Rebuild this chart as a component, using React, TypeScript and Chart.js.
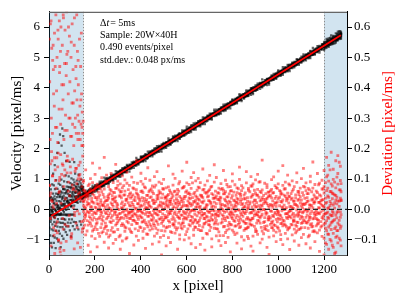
import React, { useEffect, useRef } from "react";
import { Chart, registerables } from "chart.js";

Chart.register(...registerables);

const SERIF = "'Liberation Serif', 'DejaVu Serif', serif";

// Linear fit of velocity vs x (px/ms)
const FIT_INTERCEPT = -0.262;
const FIT_SLOPE = 0.004707;
const fitLineX = [10, 1273];

const xTicks = [0, 200, 400, 600, 800, 1000, 1200];
const velocityTicks = [-1, 0, 1, 2, 3, 4, 5, 6];
const deviationTicks = [-0.1, 0, 0.1, 0.2, 0.3, 0.4, 0.5, 0.6];
const shadedRanges = [
  [0, 150],
  [1200, 1300],
];
const annotationLines = ["Sample: 20W\u00d740H", "0.490 events/pixel", "std.dev.: 0.048 px/ms"];

// Events in the fitted region: x column and deviations (units of 0.001 px/ms)
const colX = [
  151, 160, 171, 181, 190, 201, 210, 221, 230, 241,
  251, 260, 271, 280, 291, 300, 311, 320, 331, 340,
  351, 361, 370, 381, 390, 401, 410, 421, 431, 440,
  451, 460, 471, 480, 491, 500, 511, 521, 530, 541,
  550, 561, 570, 581, 590, 601, 611, 620, 631, 640,
  651, 660, 671, 680, 691, 701, 710, 721, 730, 741,
  750, 761, 770, 781, 791, 800, 811, 820, 831, 840,
  851, 861, 870, 881, 890, 901, 910, 921, 930, 941,
  951, 960, 971, 980, 991, 1000, 1011, 1020, 1031, 1041,
  1050, 1061, 1070, 1081, 1090, 1101, 1110, 1121, 1131, 1140,
  1151, 1160, 1171, 1180, 1191, 1200, 1211, 1220, 1231, 1240,
  1251, 1260, 1271,
];
const colDev = [
  [12, -38, 64, -7, 95, -61, 27], [-22, 41, 3, -84, 57, 130, -15], [35, -9, -52, 78, -118, 18, 46],
  [-3, 66, -29, 101, -47, 9, -140], [51, -17, 24, -71, -35, 88, 152], [-58, 7, 39, -96, 70, -12, 115],
  [19, -44, 83, -5, -123, 31, -66], [74, -26, -1, 47, -89, 136, 8], [-33, 58, -77, 15, 104, -48, -11],
  [40, -63, 22, -108, 67, -2, 171], [-14, 29, 92, -55, -31, 113, -80], [6, -91, 48, -20, 75, -127, 37],
  [62, -4, -43, 118, -69, 21, -28], [-75, 33, 10, -37, 88, -112, 56], [27, -52, 69, -8, -99, 41, 148],
  [-41, 15, -66, 93, 2, -24, 79], [84, -30, 44, -85, -13, 57, -131], [-9, 71, -47, 25, -104, 110, 3],
  [48, -18, -72, 60, 16, -58, 97], [-27, 86, 1, -39, 122, -93, 34], [13, -64, 50, -11, 79, -29, -145],
  [-50, 23, 106, -76, -6, 42, -21], [68, -35, -15, 31, -117, 89, 9], [-19, 54, -88, 4, 65, -46, 160],
  [37, -70, 18, -102, 45, -3, -33], [-6, 92, -25, 59, -60, 14, 119], [55, -13, -40, 83, -95, 28, -72],
  [-44, 26, 71, -16, -128, 101, 6], [21, -57, 3, 46, -82, -23, 137], [-68, 39, -10, 96, 11, -49, 63],
  [30, -21, 58, -64, -36, 77, -114], [-12, 73, -53, 20, 108, -88, 1], [46, -2, -79, 35, -17, 124, -41],
  [-31, 61, 14, -107, 52, -6, 90], [9, -46, 85, -26, -70, 38, -150], [-55, 18, -34, 67, -1, 99, -86],
  [71, -28, 40, -60, -120, 16, 25], [-16, 49, -93, 8, 74, -37, 143], [33, -73, 26, -14, 57, -109, -4],
  [-47, 5, 80, -52, -24, 116, 44], [60, -39, -8, 102, -78, 20, -59], [-24, 66, -61, 29, -131, 52, 11],
  [17, -84, 43, -30, 91, -5, -98], [-64, 32, 9, -45, 126, -19, 70], [42, -11, -56, 76, -100, 35, -26],
  [-8, 87, -32, 13, -73, 61, 155], [54, -50, 21, -94, 38, -16, 82], [-36, 12, 69, -23, -113, 105, -3],
  [26, -67, -1, 51, -42, -85, 121], [-59, 44, 94, -35, 7, -126, 30], [18, -42, 73, -9, -66, 34, 102],
  [-70, 10, 47, -28, 88, -115, -1], [39, -58, -19, 64, -95, 22, 133], [-13, 80, -46, 5, -134, 56, -30],
  [57, -25, 15, -81, 41, -4, 94], [-38, 65, -70, 27, -10, 112, -52], [8, -97, 52, -34, 76, -17, -123],
  [-62, 24, -5, 90, -48, 37, 147], [44, -16, -63, 19, 105, -87, -36], [-21, 70, 32, -103, -2, 53, -74],
  [66, -45, 3, 38, -119, 85, 12], [-4, 51, -86, -22, 63, -57, 128], [29, -76, 58, 11, -37, 96, -109],
  [-53, 17, -27, 74, 6, -92, 41], [75, -8, -49, 23, -140, 60, -18], [-30, 93, -14, -68, 45, 2, 117],
  [14, -55, 81, -39, -83, 28, -6], [-78, 36, -20, 55, -111, 71, 24], [52, -3, -44, 99, -60, -25, 139],
  [-17, 62, 16, -90, 33, -130, 78], [35, -69, -11, 47, -101, 9, -41], [-46, 20, 87, -32, -7, 124, -64],
  [63, -31, -58, 12, 69, -96, 4], [-10, 77, -35, -121, 40, -51, 108], [24, -88, 49, -2, -29, 84, -137],
  [-65, 8, 30, -73, 97, -14, 53], [47, -36, -82, 66, -19, 115, -8], [-28, 59, 4, -110, 28, -45, 91],
  [11, -71, 64, -16, -98, 39, 162], [-56, 25, -40, 86, -63, 0, -27], [72, -12, 36, -54, -125, 19, 81],
  [-23, 45, -91, 7, 57, -34, -148], [38, -60, -6, 98, -43, 66, 13], [-69, 15, 55, -24, -87, 107, -50],
  [20, -33, -75, 43, 10, -106, 72], [-7, 84, -29, -62, 126, -11, 35], [58, -47, 26, -99, -21, 50, -83],
  [-37, 6, -54, 79, -116, 31, 144], [43, -79, 68, -15, -52, 90, 1], [-14, 53, -97, 34, -30, -67, 113],
  [80, -24, 9, -59, -132, 42, -5], [-51, 37, -18, 94, 6, -84, 60], [27, -65, 75, -37, -104, 17, -25],
  [-2, 89, -42, 13, -71, 120, -56], [49, -19, -66, 58, -9, -118, 33], [-60, 31, 11, -46, 101, -23, -93],
  [16, -82, 46, -8, -35, 76, 135], [-43, 62, -26, -113, 20, -1, 87], [69, -39, -3, 52, -90, 28, -62],
  [-26, 14, 91, -50, -14, 109, -127], [34, -73, -31, 70, -56, 5, 156], [-74, 41, -9, 25, -106, 82, -20],
  [55, -11, -48, 118, -77, -34, 39], [-15, 86, 23, -68, 48, -138, 4], [31, -54, -89, 13, 96, -27, 67],
  [-48, 75, -16, 128, -95, 8, -150, 54], [62, -37, 107, -70, -12, 171, -115, 23],
  [-29, 93, -58, 40, -131, 6, 145, -82], [84, -66, 19, -104, 58, -21, 188, -44],
  [-11, 51, -125, 99, -37, 132, -79, 14], [46, -92, 71, -19, 160, -58, -141, 30],
  [-70, 28, 118, -45, -7, 83, -110, 177], [37, -101, 64, -8, -62, 142, -26, 95],
];

// Second set of event columns (interleaved with the first)
const colX2 = [
  156, 166, 176, 186, 196, 206, 216, 226, 236, 246,
  256, 266, 276, 286, 296, 306, 316, 326, 336, 346,
  356, 366, 376, 386, 396, 406, 416, 426, 436, 446,
  456, 466, 476, 486, 496, 506, 516, 526, 536, 546,
  556, 566, 576, 586, 596, 606, 616, 626, 636, 646,
  656, 666, 676, 686, 696, 706, 716, 726, 736, 746,
  756, 766, 776, 786, 796, 806, 816, 826, 836, 846,
  856, 866, 876, 886, 896, 906, 916, 926, 936, 946,
  956, 966, 976, 986, 996, 1006, 1016, 1026, 1036, 1046,
  1056, 1066, 1076, 1086, 1096, 1106, 1116, 1126, 1136, 1146,
  1156, 1166, 1176, 1186, 1196, 1206, 1216, 1226, 1236, 1246,
  1256, 1266, 1274,
];
const colDev2 = [
  [-18, 33, -52, 7, 61, -29], [25, -6, 44, -37, -71, 14], [-41, 19, -12, 58, -24, 83], [8, -55, 36, -3, 27, -88],
  [-27, 47, -66, 21, -9, 62], [39, -14, 5, -48, 76, -33], [-2, 57, -31, 17, -79, 40], [-60, 23, -19, 68, -7, 31],
  [14, -38, 49, -24, 12, -73], [-45, 8, 28, -11, -57, 91], [31, -69, -4, 42, -26, 15], [-13, 52, -40, 3, -85, 66],
  [45, -21, 16, -60, 34, -2], [-8, 37, -74, 25, -16, 55], [20, -47, 9, -30, 70, -19], [-35, 64, -15, -1, 44, -90],
  [6, -26, 38, -53, 18, 59], [-52, 11, -29, 47, -6, 78], [28, -3, -61, 33, -20, -97], [-16, 43, 22, -44, 65, -8],
  [37, -30, -9, 54, -72, 11], [-5, 71, -36, 16, -23, 48], [-39, 2, 29, -64, 40, -15], [50, -25, -7, 19, -46, 86],
  [-21, 34, -58, 8, 27, -3], [11, -42, 61, -28, -10, 39], [-63, 17, -1, 36, -35, 74], [32, -9, 46, -50, 5, -81],
  [-11, 58, -22, -40, 23, 13], [41, -34, 7, -17, 67, -55], [-28, 20, -47, 52, -4, 30], [3, -62, 26, -13, 80, -37],
  [-49, 35, -19, 8, -68, 44], [24, -7, 55, -32, 14, -92], [-15, 68, -39, 21, -1, 50], [36, -20, -71, 41, -28, 6],
  [-6, 45, 12, -58, 31, -24], [-56, 26, -11, 63, -42, 17], [17, -33, 51, -4, -76, 38], [-31, 9, -50, 29, 58, -14],
  [47, -17, 20, -67, 3, 35], [-10, 60, -27, -45, 22, 84], [26, -51, 4, 37, -19, -60], [-44, 13, -6, 72, -33, 23],
  [12, -29, 43, -15, -83, 57], [-24, 52, -64, 10, 28, -1], [35, -8, -38, 49, -54, 19], [-3, 39, 17, -26, 87, -46],
  [-58, 24, -16, 56, -5, -34], [19, -44, 63, -21, 9, 40], [-36, 7, -53, 31, -12, 71], [42, -19, 25, -70, 46, -8],
  [-14, 66, -30, 2, -48, 28], [7, -41, 53, -22, 15, -79], [-50, 29, -9, 44, -37, 61], [23, -4, -59, 18, 73, -26],
  [-19, 48, 11, -35, -2, 36], [38, -27, -44, 60, -16, 8], [-7, 55, -21, -65, 33, -48], [29, -12, 40, -3, -86, 20],
  [-42, 16, -32, 69, 1, -18], [13, -56, 34, -10, 52, -30], [-25, 41, -68, 24, -6, 82], [51, -15, 3, -43, 27, -64],
  [-9, 62, -25, 14, -51, 37], [30, -37, 57, -19, 7, -75], [-54, 22, -4, 46, -28, 10], [18, -1, -49, 33, 68, -36],
  [-33, 50, 26, -57, -12, 43], [4, -23, 71, -38, 19, -6], [-46, 35, -14, 9, -63, 54], [27, -60, 39, -26, 2, -89],
  [-12, 18, -35, 58, -47, 25], [44, -30, 8, -11, 77, -52], [-20, 63, -56, 30, -3, 15], [9, -45, 22, -72, 47, -17],
  [-38, 12, -8, 40, -24, 90], [55, -22, 31, -59, 14, -2], [-1, 46, -43, 19, -80, 33], [33, -16, -66, 52, -9, 24],
  [-27, 57, 13, -34, 41, -70], [16, -49, 45, -5, -28, 61], [-61, 28, -20, 7, 54, -39], [22, -10, 36, -53, -15, 78],
  [-17, 69, -3, -41, 25, -58], [40, -33, -18, 62, -71, 12], [-5, 24, 51, -29, 8, -46], [-48, 14, -37, 47, -1, 67],
  [28, -57, 6, -14, 36, -26], [-22, 43, -62, 21, 84, -8], [10, -28, 33, -49, -5, 52], [-35, 66, -13, 3, -40, 27],
  [48, -19, -52, 38, 16, -77], [-14, 30, 9, -23, 59, -43], [21, -64, 42, -7, -31, 70], [-43, 5, -26, 55, -11, 18],
  [36, -38, 17, -60, 73, -2], [-8, 52, -45, 26, -19, 39], [15, -24, 64, -33, 4, -85], [-57, 31, -6, 12, -47, 58],
  [25, -13, 48, -70, 20, -29], [-30, 60, -17, 35, -2, -54], [6, -46, 23, -12, 81, -36], [-40, 18, -58, 44, -8, 29],
  [32, -3, -31, 67, -22, 11], [-62, 37, -14, 88, -45, 20, -110], [44, -26, 70, -9, -81, 113, 3],
  [-17, 59, -99, 26, 12, -52, 130], [53, -41, -6, 77, -118, 35, -20], [-34, 90, 21, -63, 4, -145, 48],
  [18, -70, 40, -28, 106, -11, -88], [-51, 10, -36, 64, -95, 155, 27], [29, -55, 85, -17, 31, -120, 58],
];

// Edge region (x < 150): events near the fit
const nearX = [
  4, 9, 13, 18, 22, 27, 31, 36, 40, 45, 49, 53, 58, 62, 67, 71, 75, 80, 84, 88,
  93, 97, 101, 106, 110, 114, 119, 123, 127, 132, 136, 140, 145, 149,
  7, 16, 25, 34, 43, 52, 61, 70, 79, 88, 96, 104, 112, 120, 128, 137, 144,
  11, 29, 47, 65, 83, 101, 118, 135,
  2, 6, 10, 15, 20, 24, 28, 33, 38, 42, 46, 51, 55, 60, 64, 69, 73, 77, 82, 86,
  90, 95, 99, 103, 108, 112, 116, 121, 125, 130, 134, 138, 142, 147, 150, 117, 124, 131, 139, 146,
];
const nearDev = [
  45, -120, 160, 12, -85, 130, 70, -40, 185, 95, -140, 20, 150, -65, 110, 35, -105, 175, 60, -20,
  140, -95, 80, 5, -130, 125, 40, -60, 100, -15, 155, 30, -75, 90,
  -30, 110, -145, 170, 55, -110, 145, -50, 120, 15, -90, 65, -10, 135, 50, -125, 75,
  190, -70, 105, -135, 160, 25, -45, 115,
  80, 150, 30, 110, -60, 170, 95, 20, 140, -100, 60, 180, 115, -30, 75, 130, 10, 160, -55, 90,
  45, 120, -80, 165, 70, -20, 135, 85, -110, 145, 55, 100, -40, 175, 25, 60, -5, 110, 40, -65,
];
// Edge region: events well above the fit
const upperX = [
  3, 6, 8, 10, 12, 14, 15, 17, 19, 21, 23, 24, 26, 28, 30, 31, 33, 35, 37, 38,
  40, 42, 44, 45, 47, 49, 51, 52, 54, 56, 58, 59, 61, 63, 65, 66, 68, 70, 72, 73,
  75, 77, 79, 80, 82, 84, 86, 87, 89, 91, 93, 94, 96, 98, 100, 101, 103, 105, 107, 108,
  110, 112, 114, 115, 117, 119, 121, 122, 124, 126, 128, 129, 131, 133, 135, 136, 138, 140, 142, 143,
  145, 147, 149, 5, 20, 34, 46, 57, 69, 78, 92, 99, 106, 113, 118, 125, 130, 139, 144, 148,
  2, 16, 64, 9, 27, 39, 50, 62, 76, 85, 97, 111, 127, 141, 18,
];
const upperDev = [
  420, 610, 880, 300, 530, 1020, 250, 700, 460, 950, 340, 580, 810, 270, 640, 1080, 390, 500, 760, 220,
  560, 910, 330, 620, 470, 840, 280, 600, 990, 410, 540, 730, 360, 630, 230, 870, 480, 590, 310, 1040,
  440, 650, 260, 780, 520, 380, 940, 300, 570, 420, 690, 240, 500, 820, 350, 610, 280, 460, 740, 210,
  540, 390, 900, 300, 470, 250, 640, 360, 520, 230, 410, 800, 290, 560, 340, 230, 470, 280, 380, 210,
  320, 250, 290, 230, 380, 270, 450, 330, 260, 510, 300, 240, 350, 270, 430, 310, 250, 360, 270, 210,
  560, 490, 410, 620, 470, 590, 520, 640, 480, 600, 550, 630, 490, 580, 540,
];
// Edge region: fast outliers
const highX = [18, 25, 36, 42, 48, 55, 58, 62, 68, 75, 90, 110];
const highDev = [1350, 1600, 1950, 2250, 2500, 2100, 2650, 2380, 1800, 1500, 1400, 1300];
// Edge region: events well below the fit
const lowX = [
  2, 5, 7, 9, 11, 13, 15, 17, 19, 21, 23, 25, 27, 29, 31, 33, 35, 37, 39, 41,
  43, 45, 47, 49, 51, 53, 55, 57, 59, 61, 63, 65, 67, 69, 71, 73, 75, 77, 79, 82,
  85, 88, 91, 94, 97, 100, 104, 108, 112, 117, 122, 128, 134, 140,
];
const lowDev = [
  -350, -620, -180, -880, -450, -1050, -300, -700, -520, -940, -260, -780, -410, -1150, -590, -330, -860, -480, -240, -990,
  -650, -380, -760, -550, -1220, -430, -310, -880, -600, -470, -1000, -360, -720, -540, -410, -830, -650, -300, -950, -560,
  -700, -480, -860, -620, -1080, -540, -780, -660, -920, -710, -840, -1000, -760, -900,
];
// Edge region: events stuck near -0.17 px/ms
const stuckX = [3, 8, 14, 19, 25, 30, 36, 41, 47, 52, 58, 63, 69, 74, 80, 85, 91, 96, 102, 107];
const stuckDev = [78, 54, 26, 3, -26, -49, -77, -101, -129, -153, -181, -205, -233, -256, -285, -308, -336, -360, -388, -412];

const fit = (x: number) => FIT_INTERCEPT + FIT_SLOPE * x;

type Ev = { x: number; dev: number };
function collectEvents(): Ev[] {
  const out: Ev[] = [];
  colX.forEach((x, i) => (colDev[i] || []).forEach((d) => out.push({ x, dev: d / 1000 })));
  colX2.forEach((x, i) => (colDev2[i] || []).forEach((d) => out.push({ x, dev: d / 1000 })));
  const groups: [number[], number[]][] = [
    [nearX, nearDev],
    [upperX, upperDev],
    [highX, highDev],
    [lowX, lowDev],
    [stuckX, stuckDev],
  ];
  groups.forEach(([xs, ds]) =>
    xs.forEach((x, i) => {
      if (ds[i] !== undefined) out.push({ x, dev: ds[i] / 1000 });
    })
  );
  return out;
}

const minus = (s: string) => s.replace("-", "\u2212");

const decorPlugin = {
  id: "decor",
  beforeDatasetsDraw(chart: any) {
    const { ctx, chartArea } = chart;
    const { top, bottom, left, right } = chartArea;
    const xs = chart.scales.x;
    ctx.save();
    ctx.fillStyle = "rgba(31,119,180,0.2)";
    shadedRanges.forEach(([a, b]) => {
      const xa = Math.max(left, xs.getPixelForValue(a));
      const xb = Math.min(right, xs.getPixelForValue(b));
      ctx.fillRect(xa, top, xb - xa, bottom - top);
    });
    ctx.strokeStyle = "#8c8c8c";
    ctx.lineWidth = 1;
    ctx.setLineDash([1.5, 1.5]);
    [shadedRanges[0][1], shadedRanges[1][0]].forEach((v) => {
      const px = Math.round(xs.getPixelForValue(v)) + 0.5;
      ctx.beginPath();
      ctx.moveTo(px, top);
      ctx.lineTo(px, bottom);
      ctx.stroke();
    });
    ctx.restore();
  },
  afterDraw(chart: any) {
    const { ctx, chartArea } = chart;
    const { top, bottom, left, right } = chartArea;
    ctx.save();
    ctx.strokeStyle = "#666";
    ctx.lineWidth = 1.3;
    ctx.beginPath();
    ctx.moveTo(left, top + 0.5);
    ctx.lineTo(right, top + 0.5);
    ctx.stroke();

    ctx.fillStyle = "#000";
    ctx.textAlign = "left";
    ctx.textBaseline = "middle";
    const x0 = left + 51;
    let y = 23;
    const lh = 12.4;
    ctx.font = `10px ${SERIF}`;
    let cx = x0;
    ctx.fillText("\u0394", cx, y);
    cx += ctx.measureText("\u0394").width;
    ctx.font = `italic 10px ${SERIF}`;
    ctx.fillText("t", cx, y);
    cx += ctx.measureText("t").width + 1;
    ctx.font = `10px ${SERIF}`;
    ctx.fillText("= 5ms", cx, y);
    annotationLines.forEach((t) => {
      y += lh;
      ctx.fillText(t, x0, y);
    });

    ctx.font = `15px ${SERIF}`;
    ctx.textAlign = "center";
    ctx.fillText("x [pixel]", (left + right) / 2, 286);
    const midY = (top + bottom) / 2;
    ctx.save();
    ctx.translate(17, midY);
    ctx.rotate(-Math.PI / 2);
    ctx.fillText("Velocity [pixel/ms]", 0, 0);
    ctx.restore();
    ctx.save();
    ctx.fillStyle = "#ff0000";
    ctx.translate(388, midY);
    ctx.rotate(-Math.PI / 2);
    ctx.fillText("Deviation [pixel/ms]", 0, 0);
    ctx.restore();
    ctx.restore();
  },
};

export default function App() {
  const ref = useRef<HTMLCanvasElement>(null);
  useEffect(() => {
    const canvas = ref.current;
    if (!canvas) return;
    const events = collectEvents();
    const tickFont = { family: SERIF, size: 13 };
    const gridOpts = { drawOnChartArea: false, drawTicks: true, tickLength: 5, color: "#000", tickColor: "#000" };
    const chart = new Chart(canvas, {
      type: "scatter",
      data: {
        datasets: [
          {
            label: "fit",
            type: "line",
            data: fitLineX.map((x) => ({ x, y: fit(x) })),
            borderColor: "#ff0000",
            borderWidth: 1.8,
            pointRadius: 0,
            showLine: true,
            yAxisID: "y",
            order: 0,
          } as any,
          {
            label: "zero",
            type: "line",
            data: [
              { x: 0, y: 0 },
              { x: 1300, y: 0 },
            ],
            borderColor: "#222",
            borderWidth: 1.4,
            borderDash: [5, 3],
            pointRadius: 0,
            showLine: true,
            yAxisID: "y",
            order: 1,
          } as any,
          {
            label: "Deviation",
            data: events.map((e) => ({ x: e.x, y: e.dev })),
            yAxisID: "y2",
            pointStyle: "rect",
            pointRadius: 2.0,
            backgroundColor: "rgba(255,0,0,0.5)",
            borderWidth: 0,
            order: 2,
          } as any,
          {
            label: "Velocity",
            data: events.map((e) => ({ x: e.x, y: fit(e.x) + e.dev })),
            yAxisID: "y",
            pointStyle: "rect",
            pointRadius: 1.6,
            backgroundColor: "rgba(0,0,0,0.6)",
            borderWidth: 0,
            order: 3,
          } as any,
        ],
      },
      options: {
        responsive: false,
        animation: false,
        devicePixelRatio: 1,
        events: [],
        layout: { padding: { top: 10, left: 0, right: 0, bottom: 0 } },
        plugins: { legend: { display: false }, tooltip: { enabled: false } },
        scales: {
          x: {
            type: "linear",
            position: "bottom",
            min: 0,
            max: 1300,
            afterBuildTicks: (s: any) => {
              s.ticks = xTicks.map((v) => ({ value: v }));
            },
            afterFit: (s: any) => {
              s.height = 50;
            },
            ticks: { font: tickFont, color: "#000", padding: 2, maxRotation: 0, autoSkip: false, callback: (v: any) => String(v) },
            grid: gridOpts,
            border: { display: true, color: "#555", width: 1 },
          },
          y: {
            type: "linear",
            position: "left",
            min: -1.5,
            max: 6.5,
            afterBuildTicks: (s: any) => {
              s.ticks = velocityTicks.map((v) => ({ value: v }));
            },
            afterFit: (s: any) => {
              s.width = 49;
            },
            ticks: { font: tickFont, color: "#000", padding: 4, autoSkip: false, callback: (v: any) => minus(String(v)) },
            grid: gridOpts,
            border: { display: true, color: "#000", width: 1 },
          },
          y2: {
            type: "linear",
            position: "right",
            min: -0.15,
            max: 0.65,
            afterBuildTicks: (s: any) => {
              s.ticks = deviationTicks.map((v) => ({ value: v }));
            },
            afterFit: (s: any) => {
              s.width = 60;
            },
            ticks: { font: tickFont, color: "#000", padding: 2, autoSkip: false, callback: (v: any) => minus(Number(v).toFixed(1)) },
            grid: gridOpts,
            border: { display: true, color: "#000", width: 1 },
          },
        },
      } as any,
      plugins: [decorPlugin],
    });
    return () => chart.destroy();
  }, []);
  return (
    <div style={{ position: "fixed", left: 0, top: 0, width: 407, height: 305, background: "#fff" }}>
      <canvas ref={ref} width={407} height={305} style={{ display: "block", width: 407, height: 305 }} />
    </div>
  );
}
